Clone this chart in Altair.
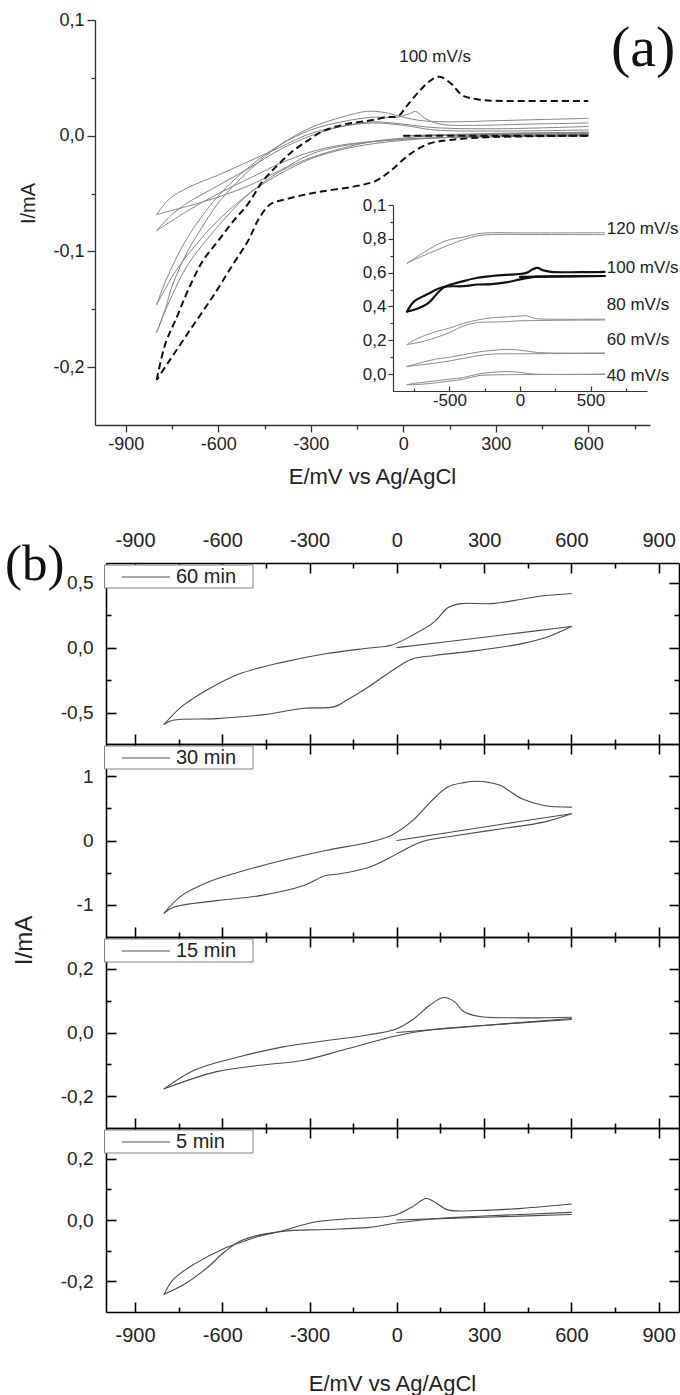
import altair as alt
import pandas as pd

W, H = 680, 1395
SANS = "Liberation Sans"
SERIF = "Liberation Serif"

# ---------------- panel (a): main cyclic voltammograms (E in mV, I in mA) ----------------
a_dash_start = [(0, 0.0), (300, 0.0), (600, 0.0)]
a_dash_down = [(600, 0.0), (265, -0.0014), (143, -0.004), (82, -0.007), (21, -0.016), (-40, -0.030),
               (-89, -0.039), (-162, -0.044), (-284, -0.049), (-382, -0.055), (-430, -0.059),
               (-467, -0.071), (-504, -0.091), (-552, -0.111), (-613, -0.137), (-687, -0.166),
               (-760, -0.195), (-800, -0.211)]
a_dash_up = [(-800, -0.211), (-772, -0.180), (-735, -0.157), (-699, -0.134), (-650, -0.108),
             (-601, -0.091), (-552, -0.074), (-504, -0.059), (-455, -0.039), (-406, -0.025),
             (-357, -0.013), (-309, -0.004), (-260, 0.004), (-187, 0.010), (-113, 0.013),
             (-52, 0.016), (-16, 0.017), (9, 0.025), (57, 0.040), (95, 0.049), (118, 0.051),
             (155, 0.045), (191, 0.035), (252, 0.031), (387, 0.030), (600, 0.030)]

a_g120_start = [(0, 0.0), (300, 0.002), (600, 0.003)]
a_g120_down = [(600, 0.003), (400, 0.002), (200, 0.001), (100, 0.0), (0, -0.002), (-100, -0.005),
               (-200, -0.011), (-300, -0.019), (-400, -0.031), (-500, -0.050), (-600, -0.078),
               (-700, -0.112), (-750, -0.138), (-800, -0.170)]
a_g120_up = [(-800, -0.170), (-770, -0.148), (-750, -0.130), (-700, -0.100), (-650, -0.078),
             (-600, -0.058), (-500, -0.030), (-400, -0.008), (-300, 0.007), (-200, 0.016),
             (-120, 0.021), (-60, 0.020), (0, 0.016), (60, 0.013), (150, 0.012), (300, 0.013),
             (450, 0.014), (600, 0.015)]
a_g80_start = [(0, 0.0), (300, 0.001), (600, 0.002)]
a_g80_down = [(600, 0.002), (300, 0.0), (100, -0.002), (0, -0.004), (-100, -0.007), (-200, -0.012),
              (-300, -0.020), (-400, -0.033), (-500, -0.050), (-600, -0.073), (-700, -0.103),
              (-750, -0.122), (-800, -0.146)]
a_g80_up = [(-800, -0.146), (-770, -0.125), (-700, -0.088), (-600, -0.052), (-500, -0.027),
            (-400, -0.008), (-300, 0.005), (-200, 0.012), (-100, 0.016), (-20, 0.016), (20, 0.019),
            (40, 0.021), (70, 0.015), (120, 0.010), (250, 0.009), (400, 0.010), (600, 0.011)]
a_g60_start = [(0, 0.0), (600, 0.001)]
a_g60_down = [(600, 0.001), (300, 0.0), (100, -0.002), (0, -0.003), (-200, -0.008), (-300, -0.014),
              (-400, -0.024), (-500, -0.037), (-600, -0.050), (-700, -0.065), (-800, -0.082)]
a_g60_up = [(-800, -0.082), (-750, -0.068), (-700, -0.058), (-600, -0.043), (-500, -0.028),
            (-400, -0.012), (-300, 0.0), (-200, 0.008), (-100, 0.012), (0, 0.010), (100, 0.007),
            (300, 0.006), (600, 0.008)]
a_g40_down = [(600, 0.0), (300, -0.001), (0, -0.003), (-200, -0.009), (-300, -0.016), (-400, -0.030),
              (-500, -0.043), (-600, -0.053), (-700, -0.061), (-800, -0.068)]
a_g40_up = [(-800, -0.068), (-760, -0.055), (-700, -0.045), (-600, -0.034), (-500, -0.022),
            (-400, -0.010), (-300, 0.002), (-200, 0.008), (-100, 0.011), (0, 0.009), (100, 0.005),
            (300, 0.004), (600, 0.005)]

a_note_text = ["100 mV/s"]
a_note_E = [103]
a_note_I = [0.068]

# ---------------- inset of panel (a) ----------------
ins_120_down = [(600, 0.825), (300, 0.825), (0, 0.826), (-200, 0.825), (-300, 0.818), (-400, 0.795),
                (-500, 0.765), (-600, 0.73), (-700, 0.695), (-800, 0.655)]
ins_120_up = [(-800, 0.655), (-700, 0.71), (-600, 0.76), (-500, 0.795), (-400, 0.81), (-300, 0.83),
              (-200, 0.836), (0, 0.835), (300, 0.835), (600, 0.836)]
ins_100_start = [(0, 0.575), (300, 0.578), (600, 0.58)]
ins_100_down = [(600, 0.58), (300, 0.578), (100, 0.575), (0, 0.56), (-100, 0.542), (-200, 0.532),
                (-300, 0.53), (-400, 0.52), (-545, 0.515), (-650, 0.475), (-750, 0.43), (-800, 0.37)]
ins_100_up = [(-800, 0.37), (-750, 0.38), (-650, 0.42), (-545, 0.51), (-400, 0.55), (-300, 0.57),
              (-200, 0.58), (-100, 0.587), (0, 0.592), (50, 0.60), (90, 0.62), (125, 0.628),
              (160, 0.615), (220, 0.605), (600, 0.605)]
ins_80_down = [(600, 0.32), (0, 0.315), (-100, 0.31), (-200, 0.308), (-300, 0.305), (-400, 0.285),
               (-500, 0.245), (-600, 0.215), (-700, 0.19), (-800, 0.175)]
ins_80_up = [(-800, 0.175), (-750, 0.2), (-700, 0.22), (-600, 0.25), (-500, 0.272), (-400, 0.30),
             (-300, 0.32), (-200, 0.333), (-100, 0.338), (0, 0.343), (50, 0.345), (100, 0.33),
             (200, 0.325), (600, 0.325)]
ins_60_down = [(600, 0.122), (0, 0.12), (-200, 0.118), (-300, 0.108), (-400, 0.093), (-500, 0.078),
               (-600, 0.065), (-700, 0.055), (-800, 0.045)]
ins_60_up = [(-800, 0.045), (-700, 0.068), (-600, 0.088), (-500, 0.10), (-400, 0.115), (-300, 0.13),
             (-200, 0.14), (-100, 0.146), (0, 0.142), (100, 0.13), (200, 0.125), (600, 0.125)]
ins_40_down = [(600, -0.002), (0, -0.003), (-200, -0.005), (-300, -0.01), (-400, -0.03), (-500, -0.042),
               (-600, -0.052), (-700, -0.06), (-800, -0.063)]
ins_40_up = [(-800, -0.063), (-750, -0.055), (-700, -0.05), (-600, -0.04), (-500, -0.03), (-400, -0.02),
             (-300, 0.0), (-200, 0.01), (-100, 0.015), (0, 0.01), (100, 0.0), (600, 0.0)]

ins_label_text = ["120 mV/s", "100 mV/s", "80 mV/s", "60 mV/s", "40 mV/s"]
ins_label_E = [615, 615, 615, 615, 615]
ins_label_I = [0.86, 0.63, 0.41, 0.20, -0.01]

# ---------------- panel (b): four stacked voltammograms ----------------
b_labels = ["60 min", "30 min", "15 min", "5 min"]

b60_start = [(0, 0.0), (300, 0.08), (600, 0.162)]
b60_down = [(600, 0.162), (520, 0.084), (430, 0.031), (280, -0.021), (130, -0.060), (55, -0.086),
            (0, -0.152), (-94, -0.296), (-170, -0.40), (-214, -0.453), (-320, -0.466), (-470, -0.518),
            (-620, -0.545), (-770, -0.558), (-800, -0.589)]
b60_up = [(-800, -0.589), (-740, -0.453), (-650, -0.322), (-545, -0.204), (-395, -0.113),
          (-245, -0.047), (-95, -0.003), (-20, 0.018), (55, 0.097), (130, 0.20), (175, 0.306),
          (220, 0.338), (325, 0.338), (430, 0.372), (505, 0.398), (600, 0.416)]

b30_start = [(0, 0.0), (300, 0.21), (600, 0.416)]
b30_down = [(600, 0.416), (505, 0.286), (355, 0.18), (205, 0.078), (100, 0.0), (55, -0.078),
            (0, -0.208), (-95, -0.416), (-200, -0.52), (-245, -0.545), (-320, -0.70), (-470, -0.857),
            (-620, -0.935), (-770, -1.04), (-800, -1.127)]
b30_up = [(-800, -1.127), (-740, -0.857), (-650, -0.649), (-545, -0.494), (-395, -0.312),
          (-245, -0.156), (-95, -0.026), (-20, 0.078), (55, 0.312), (115, 0.597), (175, 0.831),
          (230, 0.90), (273, 0.92), (320, 0.90), (355, 0.857), (430, 0.649), (505, 0.545), (600, 0.519)]

b15_start = [(0, 0.0), (300, 0.022), (600, 0.044)]
b15_down = [(600, 0.041), (280, 0.021), (130, 0.010), (0, -0.010), (-170, -0.051), (-320, -0.087),
            (-470, -0.103), (-620, -0.123), (-800, -0.177)]
b15_up = [(-800, -0.177), (-695, -0.118), (-545, -0.077), (-395, -0.046), (-245, -0.026),
          (-95, -0.007), (-5, 0.010), (55, 0.041), (115, 0.087), (160, 0.110), (198, 0.097),
          (228, 0.067), (280, 0.051), (430, 0.046), (600, 0.048)]

b5_start = [(0, 0.0), (300, 0.009), (600, 0.018)]
b5_down = [(600, 0.025), (280, 0.012), (130, 0.004), (0, -0.010), (-95, -0.024), (-245, -0.031),
           (-395, -0.037), (-530, -0.065), (-590, -0.102), (-650, -0.154), (-725, -0.206), (-800, -0.242)]
b5_up = [(-800, -0.242), (-770, -0.195), (-695, -0.143), (-590, -0.091), (-530, -0.071),
         (-470, -0.052), (-395, -0.036), (-290, -0.008), (-170, 0.004), (-50, 0.010), (0, 0.018),
         (55, 0.044), (100, 0.070), (130, 0.059), (175, 0.033), (280, 0.031), (430, 0.038), (600, 0.052)]

b_xmaj = [-900, -600, -300, 0, 300, 600, 900]
b_xmin = [-750, -450, -150, 150, 450, 750]
b_ymaj = [[-0.5, 0.0, 0.5], [-1, 0, 1], [-0.2, 0.0, 0.2], [-0.2, 0.0, 0.2]]
b_ymin = [[-0.25, 0.25], [-0.5, 0.5], [-0.1, 0.1], [-0.1, 0.1]]
b_ydom = [[-0.74, 0.65], [-1.5, 1.5], [-0.3, 0.3], [-0.3, 0.3]]


# ---------------- helpers ----------------
def frame(named):
    rows = []
    for name, pts in named.items():
        for k, (e, i) in enumerate(pts):
            rows.append({"E": e, "I": i, "curve": name, "k": k})
    return pd.DataFrame(rows)


dummy_df = pd.DataFrame({"E": [0.0], "I": [0.0]})

INT = "(datum.value < 0 ? '-' : '') + format(abs(datum.value), 'd')"
DEC = "(datum.value < 0 ? '-' : '') + replace(format(abs(datum.value), '.1f'), '.', ',')"
INSET_Y = "datum.value == 1 ? '0,1' : replace(format(datum.value, '.1f'), '.', ',')"


def axis(orient, offset, values, tick=0, labels=False, domain=False, expr="", fsize=18, pad=3,
         width=1.5, color="black", **kw):
    p = dict(orient=orient, offset=offset, values=values, grid=False, domain=domain,
             labels=labels, ticks=tick > 0, tickSize=tick, title=None,
             domainColor=color, domainWidth=width, tickColor=color, tickWidth=width)
    if labels:
        p.update(labelExpr=expr, labelFontSize=fsize, labelFont=SANS, labelColor="#222222",
                 labelPadding=pad, labelFlush=False, labelOverlap=False, labelBound=False)
    p.update(kw)
    return alt.Axis(**p)


def scale(dom, rng):
    return alt.Scale(domain=dom, range=rng, nice=False, zero=False)


def lines(named, xs, ys, color, width, xa=None, ya=None, dash=None):
    mk = dict(color=color, strokeWidth=width, interpolate="catmull-rom", strokeJoin="round")
    if dash:
        mk["strokeDash"] = dash
    else:
        mk["strokeCap"] = "round"
    return alt.Chart(frame(named)).mark_line(**mk).encode(
        x=alt.X("E:Q", scale=xs, axis=xa),
        y=alt.Y("I:Q", scale=ys, axis=ya),
        detail="curve:N", order="k:Q")


def dummy(xs, ys, xa, ya):
    return alt.Chart(dummy_df).mark_point(opacity=0, size=1).encode(
        x=alt.X("E:Q", scale=xs, axis=xa), y=alt.Y("I:Q", scale=ys, axis=ya))


TITLE = dict(titleFont=SANS, titleFontWeight="normal", titleColor="#222222", titleBaseline="middle",
             titleAlign="center")

# ---------------- panel (a) ----------------
a_xs = scale([-1000, 800], [95, 650])
a_ys = scale([-0.25, 0.1], [425, 20])
a_xmaj = axis("bottom", 425 - H, [-900, -600, -300, 0, 300, 600], tick=7, labels=True, domain=True,
              expr=INT, fsize=18, pad=3, width=1.3, color="#333333",
              title="E/mV vs Ag/AgCl", titleX=372, titleY=51, titleFontSize=22, **TITLE)
a_ymaj = axis("left", -95, [-0.2, -0.1, 0.0, 0.1], tick=8, labels=True, domain=True, expr=DEC,
              fsize=18, pad=3, width=1.3, color="#333333",
              title="I/mA", titleX=-67, titleY=203, titleAngle=270, titleFontSize=20, **TITLE)
a_xmin = axis("bottom", 425 - H, [-750, -450, -150, 150, 450, 750], tick=4, width=1.3, color="#333333")
a_ymin = axis("left", -95, [-0.15, -0.05, 0.05], tick=4, width=1.3, color="#333333")

a_gray = {"g120s": a_g120_start, "g120d": a_g120_down, "g120u": a_g120_up,
          "g80s": a_g80_start, "g80d": a_g80_down, "g80u": a_g80_up,
          "g60s": a_g60_start, "g60d": a_g60_down, "g60u": a_g60_up,
          "g40d": a_g40_down, "g40u": a_g40_up}
a_dash = {"ds": a_dash_start, "dd": a_dash_down, "du": a_dash_up}

a_note = alt.Chart(pd.DataFrame({"E": a_note_E, "I": a_note_I, "label": a_note_text})).mark_text(
    font=SANS, fontSize=17, color="#222222", align="center", baseline="middle").encode(
    x=alt.X("E:Q", scale=a_xs, axis=None), y=alt.Y("I:Q", scale=a_ys, axis=None), text="label:N")

panel_a = alt.layer(
    lines(a_gray, a_xs, a_ys, "#858585", 1.0, a_xmaj, a_ymaj),
    dummy(a_xs, a_ys, a_xmin, a_ymin),
    lines(a_dash, a_xs, a_ys, "#111111", 2.0, dash=[7, 4]),
    a_note,
).resolve_axis(x="independent", y="independent")

# ---------------- inset ----------------
i_xs = scale([-900, 900], [393, 647])
i_ys = scale([-0.1, 1.0], [391, 205])
i_xlab = axis("bottom", 391 - H, [-500, 0, 500], labels=True, domain=True, expr=INT, fsize=17, pad=1,
              width=1.2, color="#333333")
i_xtick = axis("top", -391, [-500, 0, 500], tick=5, width=1.2, color="#333333")
i_xtick2 = axis("top", -391, [-750, -250, 250, 750], tick=3, width=1.2, color="#333333")
i_ymaj = axis("left", -393, [0, 0.2, 0.4, 0.6, 0.8, 1.0], tick=5, labels=True, domain=True,
              expr=INSET_Y, fsize=17, pad=2, width=1.2, color="#333333")
i_ymin = axis("left", -393, [0.1, 0.3, 0.5, 0.7, 0.9], tick=3, width=1.2, color="#333333")

ins_gray = {"120d": ins_120_down, "120u": ins_120_up, "80d": ins_80_down, "80u": ins_80_up,
            "60d": ins_60_down, "60u": ins_60_up, "40d": ins_40_down, "40u": ins_40_up}
ins_bold = {"100s": ins_100_start, "100d": ins_100_down, "100u": ins_100_up}

ins_text = alt.Chart(pd.DataFrame({"E": ins_label_E, "I": ins_label_I, "label": ins_label_text})).mark_text(
    font=SANS, fontSize=17, color="#222222", align="left", baseline="middle").encode(
    x=alt.X("E:Q", scale=i_xs, axis=None), y=alt.Y("I:Q", scale=i_ys, axis=None), text="label:N")

panel_inset = alt.layer(
    lines(ins_gray, i_xs, i_ys, "#8a8a8a", 1.0, i_xlab, i_ymaj),
    dummy(i_xs, i_ys, i_xtick, i_ymin),
    dummy(i_xs, i_ys, i_xtick2, None),
    lines(ins_bold, i_xs, i_ys, "#111111", 2.2),
    ins_text,
).resolve_axis(x="independent", y="independent")

# ---------------- panel (b) ----------------
XL, XR = 106, 679
b_xs = scale([-1000, 970], [XL, XR])
b_layout = [(563, 744), (744, 937), (937, 1128), (1128, 1312)]
b_expr = [DEC, INT, DEC, DEC]
b_curves = [
    {"s": b60_start, "d": b60_down, "u": b60_up},
    {"s": b30_start, "d": b30_down, "u": b30_up},
    {"s": b15_start, "d": b15_down, "u": b15_up},
    {"s": b5_start, "d": b5_down, "u": b5_up},
]
LW = 1.6

panels_b = []
for n in range(4):
    t, b = b_layout[n]
    ys = scale(b_ydom[n], [b, t])
    extra = {}
    if n == 1:
        extra = dict(title="I/mA", titleX=24 - XL, titleY=940, titleAngle=270, titleFontSize=24, **TITLE)
    y_lab = axis("left", -XL, b_ymaj[n], labels=True, domain=True, expr=b_expr[n], fsize=19, pad=13,
                 width=LW, **extra)
    x_top_maj = axis("bottom", t - H, b_xmaj, tick=10, domain=True, width=LW)
    x_top_min = axis("bottom", t - H, b_xmin, tick=5, width=LW)
    x_bot_maj = axis("top", -b, b_xmaj, tick=10, domain=True, width=LW)
    x_bot_min = axis("top", -b, b_xmin, tick=5, width=LW)
    y_l_maj = axis("right", XL - W, b_ymaj[n], tick=10, width=LW)
    y_l_min = axis("right", XL - W, b_ymin[n], tick=5, width=LW)
    y_r_maj = axis("left", -XR, b_ymaj[n], tick=10, domain=True, width=LW)
    y_r_min = axis("left", -XR, b_ymin[n], tick=5, width=LW)
    if n == 0:
        x_lab = axis("top", -t, b_xmaj, labels=True, expr=INT, fsize=20, pad=13)
    elif n == 3:
        x_lab = axis("bottom", b - H, b_xmaj, labels=True, expr=INT, fsize=20, pad=13,
                     title="E/mV vs Ag/AgCl", titleX=392, titleY=71, titleFontSize=22, **TITLE)
    else:
        x_lab = None
    panels_b.append(alt.layer(
        lines(b_curves[n], b_xs, ys, "#4a4a4a", 1.1, x_top_maj, y_lab),
        dummy(b_xs, ys, x_top_min, y_l_maj),
        dummy(b_xs, ys, x_bot_maj, y_l_min),
        dummy(b_xs, ys, x_bot_min, y_r_maj),
        dummy(b_xs, ys, x_lab, y_r_min),
    ).resolve_axis(x="independent", y="independent"))

# ---------------- legend boxes and panel letters ----------------
ann = []
for n, lab in enumerate(b_labels):
    t = b_layout[n][0]
    base = alt.Chart(pd.DataFrame({"label": [lab]}))
    ann.append(base.mark_rect(fill="white", stroke="#808080", strokeWidth=1).encode(
        x=alt.value(104.5), x2=alt.value(253), y=alt.value(t + 2), y2=alt.value(t + 25)))
    ann.append(base.mark_rule(color="#555555", strokeWidth=1.2).encode(
        x=alt.value(122), x2=alt.value(170), y=alt.value(t + 14)))
    ann.append(base.mark_text(align="left", baseline="middle", font=SANS, fontSize=20,
                              color="#222222").encode(
        x=alt.value(176), y=alt.value(t + 14), text="label:N"))

ann.append(alt.Chart(pd.DataFrame({"label": ["(a)"]})).mark_text(
    font=SERIF, fontSize=58, align="left", baseline="alphabetic", color="#111111").encode(
    x=alt.value(611), y=alt.value(66), text="label:N"))
ann.append(alt.Chart(pd.DataFrame({"label": ["(b)"]})).mark_text(
    font=SERIF, fontSize=51, align="left", baseline="alphabetic", color="#111111").encode(
    x=alt.value(5), y=alt.value(580), text="label:N"))

chart = alt.layer(panel_a, panel_inset, *panels_b, *ann).resolve_scale(
    x="independent", y="independent"
).properties(
    width=W, height=H, padding=0, background="white",
    autosize=alt.AutoSizeParams(type="none"),
).configure_view(stroke="transparent")

chart.save("out.html", embed_options={"renderer": "svg", "actions": False})
